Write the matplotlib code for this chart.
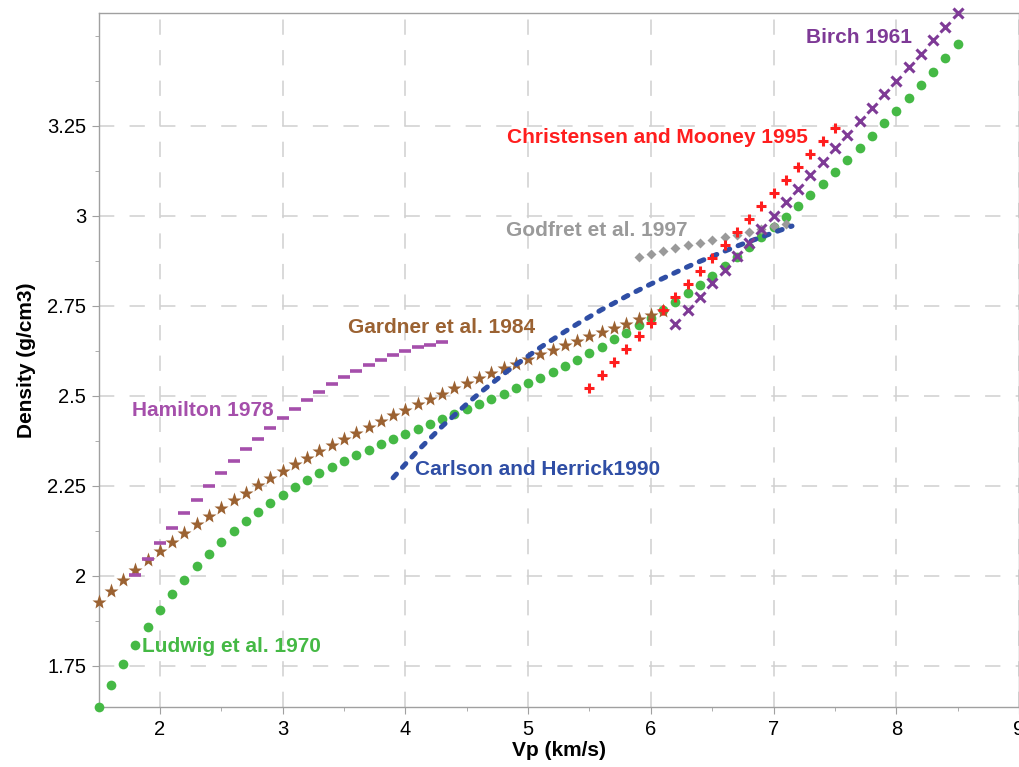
import numpy as np
import matplotlib
matplotlib.use("Agg")
import matplotlib.pyplot as plt
from matplotlib.ticker import FixedLocator

plt.rcParams['font.family'] = ['Liberation Sans', 'DejaVu Sans']

# Ludwig et al. 1970 (green dots)
ludwig_vp = [1.5, 1.6, 1.7, 1.8, 1.9, 2.0, 2.1, 2.2, 2.3, 2.4, 2.5, 2.6, 2.7, 2.8, 2.9,
             3.0, 3.1, 3.2, 3.3, 3.4, 3.5, 3.6, 3.7, 3.8, 3.9, 4.0, 4.1, 4.2, 4.3, 4.4,
             4.5, 4.6, 4.7, 4.8, 4.9, 5.0, 5.1, 5.2, 5.3, 5.4, 5.5, 5.6, 5.7, 5.8, 5.9,
             6.0, 6.1, 6.2, 6.3, 6.4, 6.5, 6.6, 6.7, 6.8, 6.9, 7.0, 7.1, 7.2, 7.3, 7.4,
             7.5, 7.6, 7.7, 7.8, 7.9, 8.0, 8.1, 8.2, 8.3, 8.4, 8.5]
ludwig_rho = [1.635, 1.697, 1.755, 1.809, 1.859, 1.905, 1.949, 1.989, 2.026, 2.061, 2.093,
              2.123, 2.151, 2.177, 2.201, 2.224, 2.245, 2.265, 2.284, 2.301, 2.318, 2.334,
              2.350, 2.365, 2.379, 2.393, 2.407, 2.421, 2.435, 2.448, 2.462, 2.476, 2.490,
              2.505, 2.520, 2.535, 2.550, 2.567, 2.583, 2.600, 2.618, 2.636, 2.656, 2.675,
              2.696, 2.717, 2.739, 2.761, 2.784, 2.808, 2.833, 2.859, 2.885, 2.912, 2.940,
              2.968, 2.997, 3.027, 3.058, 3.089, 3.121, 3.154, 3.187, 3.221, 3.256, 3.291,
              3.327, 3.363, 3.400, 3.438, 3.476]

# Gardner et al. 1984 (brown stars)
gardner_vp = [1.5, 1.6, 1.7, 1.8, 1.9, 2.0, 2.1, 2.2, 2.3, 2.4, 2.5, 2.6, 2.7, 2.8, 2.9,
              3.0, 3.1, 3.2, 3.3, 3.4, 3.5, 3.6, 3.7, 3.8, 3.9, 4.0, 4.1, 4.2, 4.3, 4.4,
              4.5, 4.6, 4.7, 4.8, 4.9, 5.0, 5.1, 5.2, 5.3, 5.4, 5.5, 5.6, 5.7, 5.8, 5.9,
              6.0, 6.1]
gardner_rho = [1.926, 1.957, 1.987, 2.015, 2.043, 2.069, 2.095, 2.119, 2.143, 2.166, 2.188,
               2.210, 2.230, 2.251, 2.271, 2.290, 2.309, 2.327, 2.345, 2.363, 2.380, 2.397,
               2.413, 2.429, 2.445, 2.461, 2.476, 2.491, 2.506, 2.520, 2.534, 2.548, 2.562,
               2.576, 2.589, 2.602, 2.615, 2.628, 2.640, 2.653, 2.665, 2.677, 2.689, 2.700,
               2.712, 2.723, 2.735]

# Hamilton 1978 (magenta dashes)
hamilton_vp = [1.8, 1.9, 2.0, 2.1, 2.2, 2.3, 2.4, 2.5, 2.6, 2.7, 2.8, 2.9, 3.0, 3.1, 3.2,
               3.3, 3.4, 3.5, 3.6, 3.7, 3.8, 3.9, 4.0, 4.1, 4.2, 4.3]
hamilton_rho = [2.003, 2.047, 2.091, 2.132, 2.173, 2.210, 2.249, 2.284, 2.318, 2.351, 2.381,
                2.409, 2.437, 2.463, 2.488, 2.509, 2.532, 2.551, 2.569, 2.585, 2.600, 2.613,
                2.625, 2.634, 2.642, 2.648]

# Godfrey et al. 1997 (gray diamonds)
godfrey_vp = [5.9, 6.0, 6.1, 6.2, 6.3, 6.4, 6.5, 6.6, 6.7, 6.8, 6.9, 7.0, 7.1]
godfrey_rho = [2.886, 2.894, 2.901, 2.909, 2.917, 2.924, 2.932, 2.940, 2.947, 2.955, 2.962,
               2.970, 2.978]

# Carlson and Herrick 1990 (blue dashed line)
carlson_vp = [3.9, 4.0, 4.1, 4.2, 4.3, 4.4, 4.5, 4.6, 4.7, 4.8, 4.9, 5.0, 5.1, 5.2, 5.3,
              5.4, 5.5, 5.6, 5.7, 5.8, 5.9, 6.0, 6.1, 6.2, 6.3, 6.4, 6.5, 6.6, 6.7, 6.8,
              6.9, 7.0, 7.1, 7.15]
carlson_rho = [2.272, 2.310, 2.347, 2.381, 2.415, 2.446, 2.477, 2.506, 2.533, 2.560, 2.586,
               2.610, 2.634, 2.656, 2.678, 2.699, 2.719, 2.739, 2.757, 2.776, 2.793, 2.810,
               2.826, 2.842, 2.858, 2.873, 2.887, 2.901, 2.915, 2.928, 2.940, 2.953, 2.965,
               2.971]

# Christensen and Mooney 1995 (red plus)
christensen_vp = [5.5, 5.6, 5.7, 5.8, 5.9, 6.0, 6.1, 6.2, 6.3, 6.4, 6.5, 6.6, 6.7, 6.8,
                  6.9, 7.0, 7.1, 7.2, 7.3, 7.4, 7.5]
christensen_rho = [2.522, 2.558, 2.594, 2.630, 2.666, 2.702, 2.738, 2.774, 2.810, 2.846,
                   2.882, 2.918, 2.954, 2.990, 3.026, 3.062, 3.098, 3.134, 3.170, 3.206,
                   3.242]

# Birch 1961 (purple x)
birch_vp = [6.2, 6.3, 6.4, 6.5, 6.6, 6.7, 6.8, 6.9, 7.0, 7.1, 7.2, 7.3, 7.4, 7.5, 7.6,
            7.7, 7.8, 7.9, 8.0, 8.1, 8.2, 8.3, 8.4, 8.5]
birch_rho = [2.700, 2.738, 2.775, 2.813, 2.850, 2.888, 2.925, 2.963, 3.000, 3.038, 3.075,
             3.113, 3.150, 3.188, 3.225, 3.263, 3.300, 3.338, 3.375, 3.413, 3.450, 3.488,
             3.525, 3.5625]

x_major = [2, 3, 4, 5, 6, 7, 8, 9]
y_major = [1.75, 2.0, 2.25, 2.5, 2.75, 3.0, 3.25]
y_major_labels = ["1.75", "2", "2.25", "2.5", "2.75", "3", "3.25"]

C_LUDWIG = "#45b945"
C_GARDNER = "#9b6232"
C_HAMILTON = "#a54fab"
C_GODFREY = "#9a9a9a"
C_CARLSON = "#2f4ea5"
C_CHRIST = "#ff1e1e"
C_BIRCH = "#7e3a96"

fig = plt.figure(figsize=(10.2, 7.67), dpi=100)
ax = fig.add_axes([0.0966, 0.078, 0.9025, 0.905])

ax.plot(ludwig_vp, ludwig_rho, 'o', color=C_LUDWIG, ms=7, mec='none', clip_on=False, zorder=3)
ax.plot(gardner_vp, gardner_rho, '*', color=C_GARDNER, ms=11, mec='none', clip_on=False, zorder=3)
ax.plot(hamilton_vp, hamilton_rho, '_', color=C_HAMILTON, ms=9, mew=2.6, zorder=3)
ax.plot(godfrey_vp, godfrey_rho, 'D', color=C_GODFREY, ms=5.5, mec='none', zorder=3)
ax.plot(carlson_vp, carlson_rho, '--', color=C_CARLSON, lw=3.6, dashes=(1.0, 1.8),
        dash_capstyle='round', zorder=4)
ax.plot(christensen_vp, christensen_rho, '+', color=C_CHRIST, ms=7, mew=2.2, zorder=4)
ax.plot(birch_vp, birch_rho, 'x', color=C_BIRCH, ms=7.5, mew=2.2, clip_on=False, zorder=5)

lab_kw = dict(fontsize=15, fontweight='bold', va='center', ha='left')
ax.text(7.266, 3.495, "Birch 1961", color=C_BIRCH, **lab_kw)
ax.text(4.826, 3.217, "Christensen and Mooney 1995", color=C_CHRIST, **lab_kw)
ax.text(4.818, 2.960, "Godfret et al. 1997", color=C_GODFREY, **lab_kw)
ax.text(3.534, 2.690, "Gardner et al. 1984", color=C_GARDNER, **lab_kw)
ax.text(1.770, 2.458, "Hamilton 1978", color=C_HAMILTON, **lab_kw)
ax.text(4.077, 2.296, "Carlson and Herrick1990", color=C_CARLSON, **lab_kw)
ax.text(1.851, 1.804, "Ludwig et al. 1970", color=C_LUDWIG, **lab_kw)

ax.set_xlim(1.5, 9)
ax.set_ylim(1.635, 3.5625)
ax.set_xticks(x_major)
ax.set_yticks(y_major)
ax.set_yticklabels(y_major_labels)
ax.xaxis.set_minor_locator(FixedLocator([2.5, 3.5, 4.5, 5.5, 6.5, 7.5, 8.5]))
ax.yaxis.set_minor_locator(FixedLocator([1.875, 2.125, 2.375, 2.625, 2.875, 3.125, 3.375, 3.5]))

ax.grid(True, which='major', color='#d0d0d0', lw=1.1, ls=(0, (10, 10)))
ax.set_axisbelow(True)

for s in ax.spines.values():
    s.set_color('#a0a0a0')
    s.set_linewidth(1.0)
ax.tick_params(which='major', direction='out', length=5, color='#a0a0a0',
               labelsize=14.5, labelcolor='black', pad=4)
ax.tick_params(which='minor', direction='out', length=3, color='#a0a0a0')

ax.set_xlabel("Vp (km/s)", fontsize=15, fontweight='bold', labelpad=2)
ax.set_ylabel("Density (g/cm3)", fontsize=15, fontweight='bold', labelpad=8)

fig.savefig("out.png", dpi=100)
